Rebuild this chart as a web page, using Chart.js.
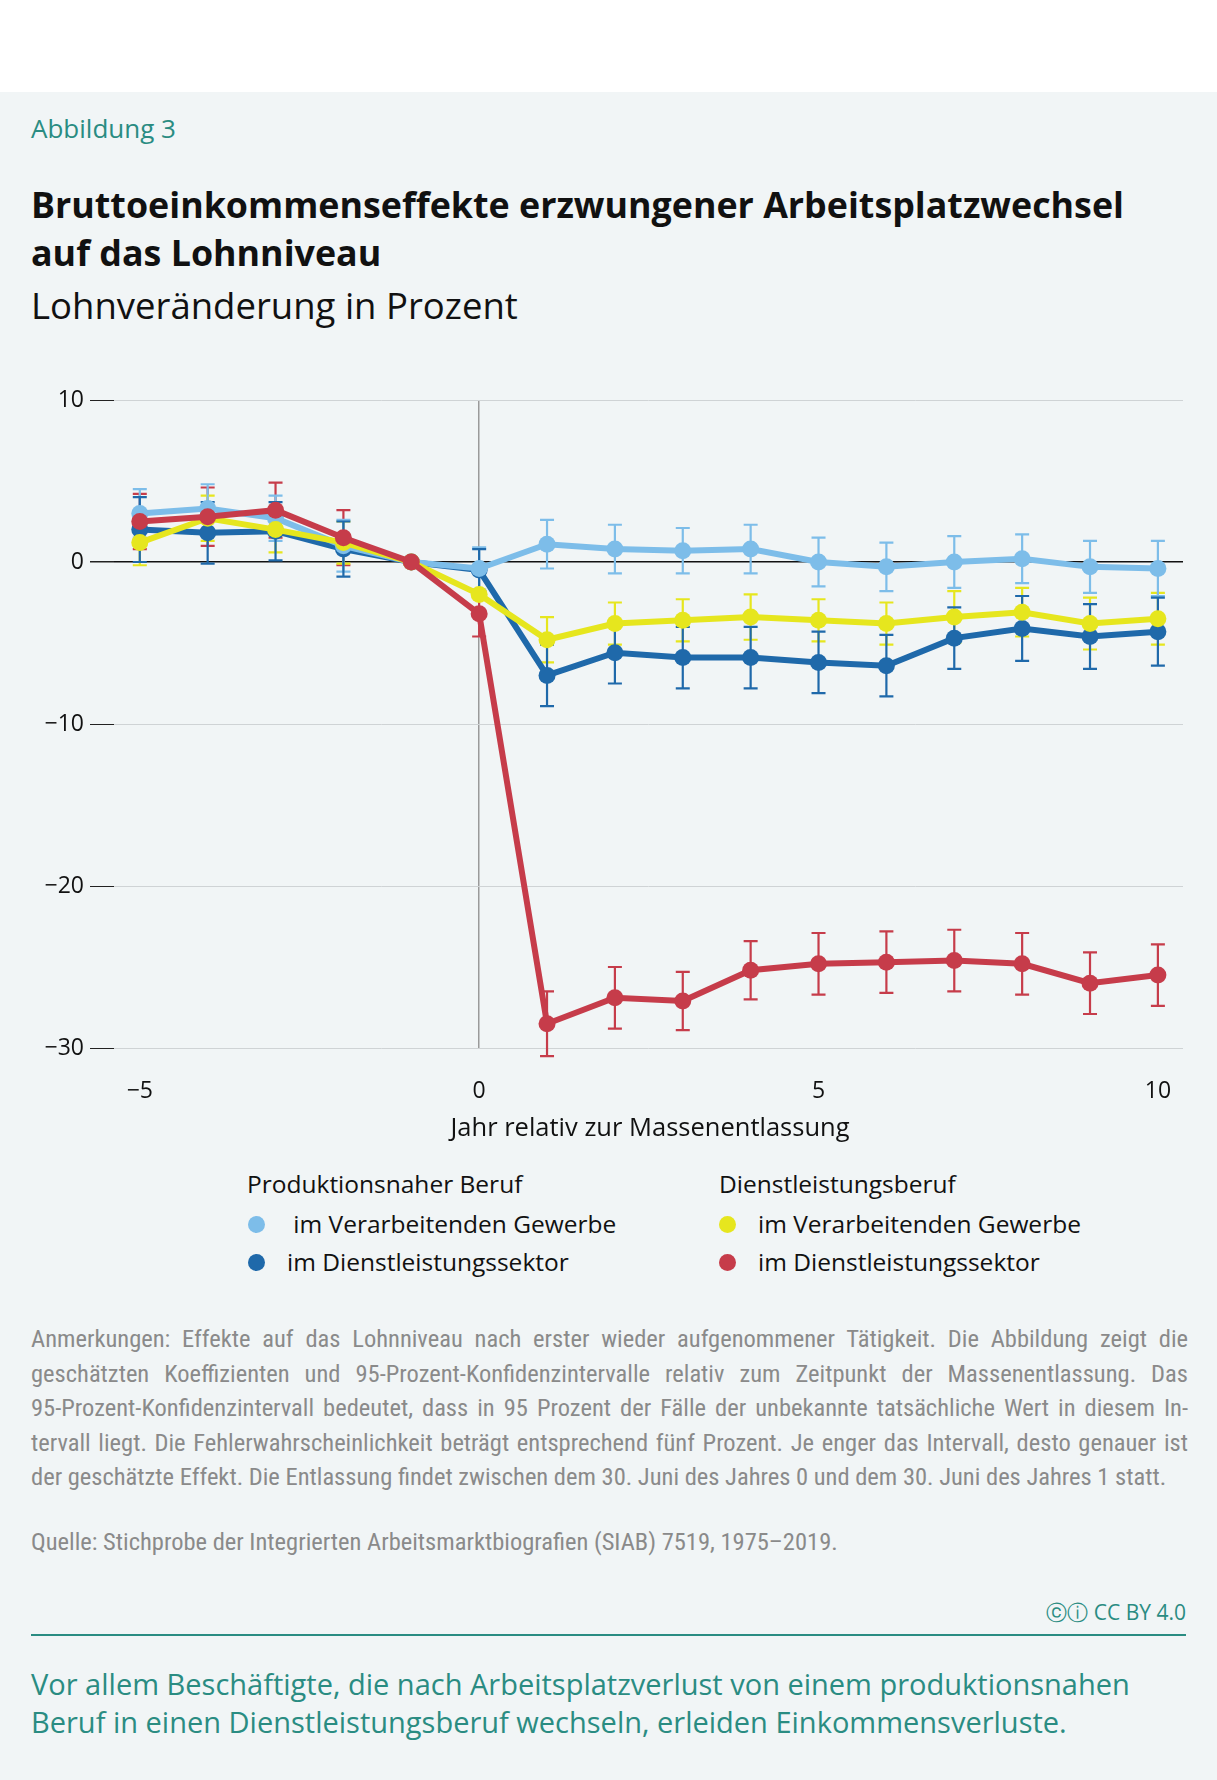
<!DOCTYPE html>
<html><head><meta charset="utf-8">
<script src="https://cdn.jsdelivr.net/npm/chart.js@4"></script>
<style>
body{margin:0;width:1217px;height:1780px;background:#fff;font-family:"Open Sans",sans-serif;position:relative;overflow:hidden}
#bg{position:absolute;left:0;top:92px;width:1217px;height:1688px;background:#f1f5f6}
.t{position:absolute;white-space:nowrap}
.note{font-family:"Liberation Sans Narrow","Roboto Condensed",sans-serif;color:#8a8a8a;font-size:24.5px;line-height:34.5px;position:absolute;left:31px;top:1322px;width:1157px}
.note div{text-align:justify;text-align-last:justify;white-space:nowrap}
.note div.l{text-align-last:left}
.dot{display:inline-block;width:17px;height:17px;border-radius:50%;vertical-align:middle;margin-right:22px;position:relative;top:-2px}
.lg{font-size:24.5px;color:#111}
</style></head><body>
<div id="bg"></div>
<div class="t" style="left:31px;top:110px;font-size:26px;color:#2a8c82">Abbildung 3</div>
<div class="t" style="left:31px;top:180px;font-size:35.8px;font-weight:bold;line-height:48px;color:#111">Bruttoeinkommenseffekte erzwungener Arbeitsplatzwechsel<br>auf das Lohnniveau</div>
<div class="t" style="left:31px;top:280px;font-size:36.5px;color:#111">Lohnveränderung in Prozent</div>
<div style="position:absolute;left:0;top:380px;width:1217px;height:740px"><canvas id="c"></canvas></div>
<div class="t" style="left:0;width:1300px;text-align:center;top:1109px;font-size:25.5px;color:#111">Jahr relativ zur Massenentlassung</div>
<div class="t lg" style="left:247px;top:1167px">Produktionsnaher Beruf</div>
<div class="t lg" style="left:248px;top:1207px"><span class="dot" style="background:#7dbde9"></span>&nbsp;im Verarbeitenden Gewerbe</div>
<div class="t lg" style="left:248px;top:1245px"><span class="dot" style="background:#1f69aa"></span>im Dienstleistungssektor</div>
<div class="t lg" style="left:719px;top:1167px">Dienstleistungsberuf</div>
<div class="t lg" style="left:719px;top:1207px"><span class="dot" style="background:#e6e61e"></span>im Verarbeitenden Gewerbe</div>
<div class="t lg" style="left:719px;top:1245px"><span class="dot" style="background:#c63c4a"></span>im Dienstleistungssektor</div>
<div class="note">
<div>Anmerkungen: Effekte auf das Lohnniveau nach erster wieder aufgenommener Tätigkeit. Die Abbildung zeigt die</div>
<div>geschätzten Koeffizienten und 95-Prozent-Konfidenzintervalle relativ zum Zeitpunkt der Massenentlassung. Das</div>
<div>95-Prozent-Konfidenzintervall bedeutet, dass in 95 Prozent der Fälle der unbekannte tatsächliche Wert in diesem In-</div>
<div>tervall liegt. Die Fehlerwahrscheinlichkeit beträgt entsprechend fünf Prozent. Je enger das Intervall, desto genauer ist</div>
<div class="l">der geschätzte Effekt. Die Entlassung findet zwischen dem 30. Juni des Jahres 0 und dem 30. Juni des Jahres 1 statt.</div>
</div>
<div class="note" style="top:1525px">Quelle: Stichprobe der Integrierten Arbeitsmarktbiografien (SIAB) 7519, 1975–2019.</div>
<div class="t" style="right:31px;top:1598px;font-size:21px;color:#2a8c82">ⓒⓘ CC BY 4.0</div>
<div style="position:absolute;left:31px;top:1634px;width:1155px;height:2px;background:#2a8c82"></div>
<div class="t" style="left:31px;top:1665px;font-size:29px;line-height:38px;color:#2a8c82">Vor allem Beschäftigte, die nach Arbeitsplatzverlust von einem produktionsnahen<br>Beruf in einen Dienstleistungsberuf wechseln, erleiden Einkommensverluste.</div>
<script>
const years=[-5,-4,-3,-2,-1,0,1,2,3,4,5,6,7,8,9,10];
const prodVerarb=[3.0,3.3,2.7,1.0,0,-0.4,1.1,0.8,0.7,0.8,0,-0.3,0,0.2,-0.3,-0.4];
const prodVerarbErr=[1.5,1.5,1.4,1.6,0,1.3,1.5,1.5,1.4,1.5,1.5,1.5,1.6,1.5,1.6,1.7];
const prodDienst=[2.0,1.8,1.9,0.8,0,-0.5,-7.0,-5.6,-5.9,-5.9,-6.2,-6.4,-4.7,-4.1,-4.6,-4.3];
const prodDienstErr=[2.0,1.9,1.8,1.7,0,1.3,1.9,1.9,1.9,1.9,1.9,1.9,1.9,2.0,2.0,2.1];
const dienVerarb=[1.2,2.7,2.0,1.2,0,-2.0,-4.8,-3.8,-3.6,-3.4,-3.6,-3.8,-3.4,-3.1,-3.8,-3.5];
const dienVerarbErr=[1.4,1.4,1.4,1.3,0,0,1.4,1.3,1.3,1.4,1.3,1.3,1.6,1.5,1.6,1.6];
const dienDienst=[2.5,2.8,3.2,1.5,0,-3.2,-28.5,-26.9,-27.1,-25.2,-24.8,-24.7,-24.6,-24.8,-26.0,-25.5];
const dienDienstErr=[1.7,1.8,1.7,1.7,0,1.4,2.0,1.9,1.8,1.8,1.9,1.9,1.9,1.9,1.9,1.9];
const yTicks=[10,0,-10,-20,-30];
const xTicks=[-5,0,5,10];
function ds(d,e,c){return{data:years.map((x,i)=>({x,y:d[i]})),err:e,borderColor:c,backgroundColor:c,pointBackgroundColor:c,borderWidth:6,pointRadius:8.5,pointHoverRadius:8.5,pointBorderWidth:0,tension:0}}
const errPlugin={id:'err',beforeDatasetsDraw(ch){const c=ch.ctx,xs=ch.scales.x,ys=ch.scales.y;
ch.data.datasets.forEach(d=>{c.save();c.strokeStyle=d.borderColor;c.lineWidth=2.2;
d.data.forEach((p,i)=>{const e=d.err[i];if(!e)return;const px=xs.getPixelForValue(p.x),a=ys.getPixelForValue(p.y+e),b=ys.getPixelForValue(p.y-e);
c.beginPath();c.moveTo(px,a);c.lineTo(px,b);c.moveTo(px-7,a);c.lineTo(px+7,a);c.moveTo(px-7,b);c.lineTo(px+7,b);c.stroke();});c.restore();});}};
new Chart(document.getElementById('c'),{type:'line',
data:{datasets:[ds(dienDienst,dienDienstErr,'#c63c4a'),ds(dienVerarb,dienVerarbErr,'#e6e61e'),ds(prodVerarb,prodVerarbErr,'#7dbde9'),ds(prodDienst,prodDienstErr,'#1f69aa')]},
options:{responsive:true,maintainAspectRatio:false,animation:false,events:[],
layout:{padding:{top:20,right:34,left:0,bottom:0}},
plugins:{legend:{display:false},tooltip:{enabled:false}},
scales:{
x:{type:'linear',min:-5.38,max:10.37,afterBuildTicks:s=>{s.ticks=xTicks.map(v=>({value:v}))},afterFit:s=>{s.height=72},
 grid:{drawTicks:false,lineWidth:1.5,color:c=>c.tick&&c.tick.value===0?'#9a9a9a':'rgba(0,0,0,0)'},border:{display:false},
 ticks:{padding:30,color:'#111',font:{family:'Open Sans',size:23},callback:v=>String(v).replace('-','−')}},
y:{min:-30,max:10,afterBuildTicks:s=>{s.ticks=yTicks.map(v=>({value:v}))},afterFit:s=>{s.width=114},
 grid:{tickLength:24,tickColor:'#222',lineWidth:c=>c.tick&&c.tick.value===0?1.5:1,color:c=>c.tick&&c.tick.value===0?'#111':'#cfd3d5'},border:{display:false},
 ticks:{padding:6,color:'#111',font:{family:'Open Sans',size:23},callback:v=>String(v).replace('-','−')}}}},
plugins:[errPlugin]});
</script></body></html>
